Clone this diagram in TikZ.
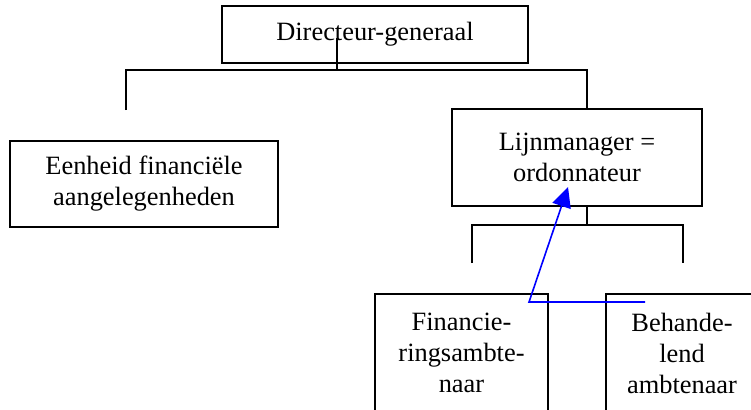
\documentclass[tikz,border=0pt]{standalone}
\usepackage{fontspec}
\setmainfont{Liberation Serif}
\usetikzlibrary{arrows.meta}
\tikzset{
  box/.style={draw=black, line width=1.6pt, rectangle, inner sep=0pt, align=center,
    font=\fontsize{26.4}{31}\selectfont},
  txt/.style={inner sep=0pt, align=center, font=\fontsize{26.4}{31}\selectfont},
  conn/.style={draw=black, line width=1.6pt},
  bluearrow/.style={draw=blue, line width=1.6pt, -{Triangle[length=20pt,width=19pt]}}
}
\begin{document}
\begin{tikzpicture}[x=1pt,y=-1pt]
\useasboundingbox (0,0) rectangle (751,409);
\clip (0,0) rectangle (751,409);
% boxes
\node[box, minimum width=306pt, minimum height=57pt] (dg) at (375,34.5) {Directeur-generaal};
\node[box, minimum width=268pt, minimum height=86pt] (eh) at (144,184) {Eenheid financiële\\aangelegenheden};
\node[box, minimum width=250pt, minimum height=97pt] (lm) at (577,157.5) {Lijnmanager =\\ordonnateur};
\node[box, minimum width=173pt, minimum height=118pt] (fin) at (461.5,353) {Financie-\\ringsambte-\\naar};
\node[txt, minimum width=152pt, minimum height=118pt] (beh) at (682,353) {Behande-\\lend\\ambtenaar};
\draw[conn] (beh.south west) -- (beh.north west) -- ([xshift=20pt]beh.north east);
% connectors top level
\coordinate (dgs) at (337,38);
\coordinate (j1) at (337,70);
\coordinate (l1) at (126,70);
\coordinate (r1) at (587,70);
\coordinate (l1e) at (126,110);
\draw[conn] (dgs) -- (j1);
\draw[conn] (l1e) -- (l1) -- (r1) -- (r1 |- lm.north);
% connectors second level
\coordinate (j2) at (587,225);
\coordinate (l2) at (472,225);
\coordinate (r2) at (683,225);
\coordinate (l2e) at (472,263);
\coordinate (r2e) at (683,263);
\draw[conn] (lm.south -| j2) -- (j2);
\draw[conn] (l2e) -- (l2) -- (r2) -- (r2e);
% blue arrow
\coordinate (b1) at (645,302);
\coordinate (b2) at (529,302);
\coordinate (b3) at (568,187);
\draw[bluearrow] (b1) -- (b2) -- (b3);
\end{tikzpicture}
\end{document}
